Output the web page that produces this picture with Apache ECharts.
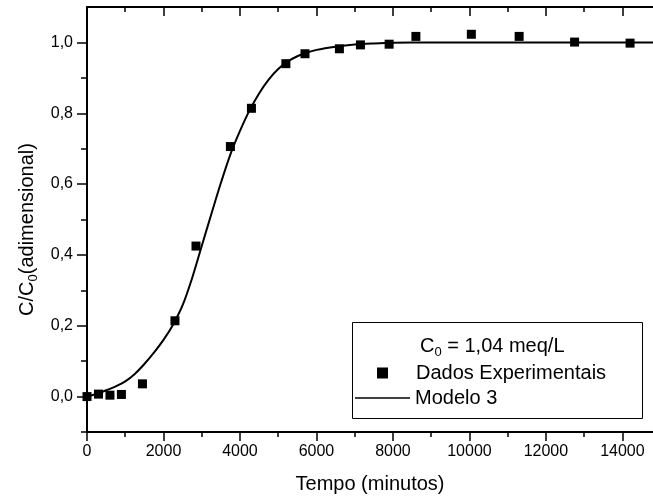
<!DOCTYPE html>
<html>
<head>
<meta charset="utf-8">
<script src="https://cdn.jsdelivr.net/npm/echarts@6/dist/echarts.min.js"></script>
<style>
  html, body { margin: 0; padding: 0; background: #fff; }
  #chart { width: 653px; height: 502px; }
</style>
</head>
<body>
<div id="chart"></div>
<script>
// experimental points
var expTime = [0, 300, 600, 900, 1450, 2300, 2850, 3750, 4300, 5200, 5700, 6600, 7150, 7900, 8600, 10050, 11300, 12750, 14200];
var expC = [0.0, 0.007, 0.004, 0.006, 0.036, 0.214, 0.425, 0.706, 0.814, 0.940, 0.968, 0.982, 0.993, 0.995, 1.017, 1.023, 1.017, 1.001, 0.998];

// Modelo 3 curve
var modelTime = [0, 250, 500, 750, 1000, 1250, 1500, 1750, 2000, 2250, 2500, 2750, 3000, 3250, 3500, 3750, 4000, 4250, 4500, 4750, 5000, 5250, 5500, 5750, 6000, 6500, 7000, 7500, 8000, 9000, 10000, 11000, 12000, 13000, 14000, 14800];
var modelC = [0.0, 0.008, 0.018, 0.029, 0.043, 0.064, 0.092, 0.124, 0.16, 0.203, 0.258, 0.335, 0.425, 0.515, 0.603, 0.684, 0.75, 0.808, 0.856, 0.895, 0.925, 0.946, 0.961, 0.971, 0.979, 0.988, 0.994, 0.997, 0.999, 1.0, 1.0, 1.0, 1.0, 1.0, 1.0, 1.0];

// ticks
var xMajor = [0, 2000, 4000, 6000, 8000, 10000, 12000, 14000];
var xMinor = [1000, 3000, 5000, 7000, 9000, 11000, 13000];
var yMajor = [0, 0.2, 0.4, 0.6, 0.8, 1.0];
var yMinor = [-0.1, 0.1, 0.3, 0.5, 0.7, 0.9];

var font = "Liberation Sans, Arial, sans-serif";

var chart = echarts.init(document.getElementById("chart"));

function xAx(pos, ticks, len, inside, withLine, withLabel) {
  return {
    type: "value",
    position: pos,
    min: 0,
    max: 14800,
    splitLine: { show: false },
    axisLine: { show: withLine, onZero: false, lineStyle: { color: "#000", width: 2 } },
    axisTick: { show: true, inside: inside, length: len, customValues: ticks, lineStyle: { color: "#000", width: 1.5 } },
    axisLabel: {
      show: withLabel,
      customValues: ticks,
      margin: 12,
      color: "#000",
      fontSize: 16,
      fontFamily: font,
      formatter: function (v) {
        return String(v);
      },
    },
  };
}

function yAx(ticks, len, withLine, withLabel) {
  return {
    type: "value",
    position: "left",
    min: -0.1,
    max: 1.1,
    splitLine: { show: false },
    axisLine: { show: withLine, onZero: false, lineStyle: { color: "#000", width: 2 } },
    axisTick: { show: true, length: len, customValues: ticks, lineStyle: { color: "#000", width: 1.5 } },
    axisLabel: {
      show: withLabel,
      customValues: ticks,
      margin: 14,
      color: "#000",
      fontSize: 16,
      fontFamily: font,
      formatter: function (v) {
        return v.toFixed(1).replace(".", ",");
      },
    },
  };
}

var xBottom = xAx("bottom", xMajor, 9, false, true, true);
xBottom.name = "Tempo (minutos)";
xBottom.nameLocation = "middle";
xBottom.nameGap = 42;
xBottom.nameTextStyle = { color: "#000", fontSize: 20, fontFamily: font };

var yLeft = yAx(yMajor, 10, true, true);
yLeft.name = "C/C{s|0}(adimensional)";
yLeft.nameLocation = "middle";
yLeft.nameGap = 46;
yLeft.nameTextStyle = {
  color: "#000",
  fontSize: 20,
  fontFamily: font,
  padding: [0, 20, 0, 0],
  rich: { s: { fontSize: 13, fontFamily: font, color: "#000", padding: [12, 0, 0, 0] } },
};

var option = {
  animation: false,
  backgroundColor: "#fff",
  grid: { left: 87, right: 0, top: 7, bottom: 70 },
  xAxis: [
    xBottom,
    xAx("bottom", xMinor, 5, false, false, false),
    xAx("top", xMajor, 9, true, true, false),
    xAx("top", xMinor, 5, true, false, false),
  ],
  yAxis: [yLeft, yAx(yMinor, 6, false, false)],
  title: {
    text: "C{s|0} = 1,04 meq/L",
    left: 420,
    top: 334,
    padding: 0,
    textStyle: {
      color: "#000",
      fontSize: 20,
      fontWeight: "normal",
      fontFamily: font,
      rich: { s: { fontSize: 13, fontFamily: font, color: "#000", padding: [12, 0, 0, 0] } },
    },
  },
  graphic: [
    {
      type: "rect",
      z: 3,
      shape: { x: 352.5, y: 322.5, width: 290, height: 96 },
      style: { fill: "#fff", stroke: "#000", lineWidth: 1 },
    },
  ],
  legend: [
    {
      data: [{ name: "Dados Experimentais", icon: "rect" }],
      left: 377,
      top: 363,
      padding: 0,
      itemWidth: 11,
      itemHeight: 11,
      textStyle: { color: "#000", fontSize: 20, fontFamily: font, padding: [0, 0, 0, 23] },
    },
    {
      data: [{ name: "Modelo 3", icon: "rect" }],
      left: 355,
      top: 388,
      padding: 0,
      itemWidth: 55,
      itemHeight: 1.5,
      itemGap: 0,
      textStyle: { color: "#000", fontSize: 20, fontFamily: font },
    },
  ],
  series: [
    {
      name: "Modelo 3",
      type: "line",
      smooth: 0.3,
      symbol: "none",
      data: modelTime.map(function (t, i) {
        return [t, modelC[i]];
      }),
      lineStyle: { color: "#000", width: 2 },
      itemStyle: { color: "#000" },
      z: 2,
    },
    {
      name: "Dados Experimentais",
      type: "scatter",
      symbol: "rect",
      symbolSize: 9,
      data: expTime.map(function (t, i) {
        return [t, expC[i]];
      }),
      itemStyle: { color: "#000", opacity: 1 },
      z: 3,
    },
  ],
};

chart.setOption(option);
</script>
</body>
</html>
